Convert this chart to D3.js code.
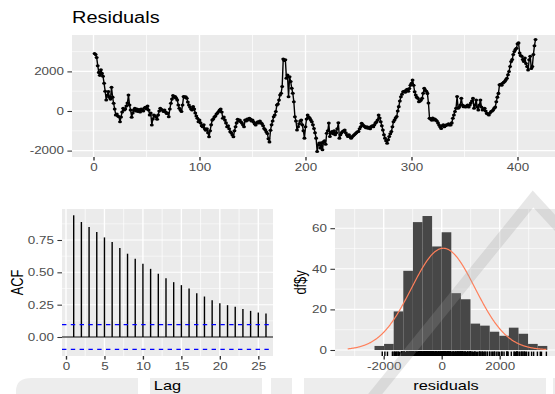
<!DOCTYPE html>
<html>
<head>
<meta charset="utf-8">
<script src="https://cdn.jsdelivr.net/npm/d3@7"></script>
<style>
  html, body { margin: 0; padding: 0; background: #ffffff; }
  svg { display: block; font-family: "Liberation Sans", Arial, Helvetica, sans-serif; }
</style>
</head>
<body>
<svg id="chart" width="555" height="394"></svg>
<script>
// ---- data -------------------------------------------------------------
// model residuals, one value per time step (t = 1 .. n)
const residuals = [
  2900, 2850, 2700, 2290, 1950, 1800, 2080, 1900, 1750, 1400,
  1000, 560, 800, 980, 700, 600, 1200, 700, 390, 100,
  -200, -150, -250, -290, -540, -300, -50, 135, 50, 100,
  250, 400, 810, 300, 50, -320, -100, 50, 135, 0,
  100, -30, 80, -50, 100, 50, 0, 150, 190, 100,
  250, 50, -200, -100, -710, -400, -200, -250, -300, -420,
  -200, 0, 135, 80, 50, -30, 50, -50, -120, -100,
  -290, 100, 390, 600, 780, 700, 730, 650, 560, 300,
  135, 50, -30, 300, 730, 700, 720, 640, 450, 300,
  200, 100, 50, 220, 100, -100, -250, -370, -540, -450,
  -600, -750, -800, -700, -900, -970, -900, -1100, -1300, -1000,
  -700, -460, -400, -300, -250, -150, -100, -30, 50, 100,
  -50, -370, -300, -460, -600, -800, -750, -900, -1050, -1100,
  -1200, -1300, -1000, -800, -600, -420, -500, -450, -540, -600,
  -700, -800, -460, -500, -400, -450, -370, -400, -500, -460,
  -550, -650, -710, -600, -550, -600, -500, -590, -650, -750,
  -880, -950, -1050, -1140, -1400, -1560, -970, -700, -500, -290,
  -200, -30, 300, 350, 550, 810, 900, 1240, 2630, 2550,
  2590, 1660, 1820, 720, 1730, 1490, 1150, 900, 470, -290,
  -500, -960, -800, -650, -500, -450, -700, -1000, -1370, -800,
  -400, -200, -300, -360, -450, -540, -700, -880, -1100, -1370,
  -2050, -1700, -1620, -1870, -1600, -1960, -1550, -1500, -1680, -1120,
  -1000, -610, -1290, -1100, -1040, -1150, -1000, -1200, -1100, -900,
  -590, -1370, -1200, -1100, -1040, -1000, -960, -1100, -1200, -1290,
  -1200, -1300, -1370, -1300, -1250, -1200, -1150, -1100, -1050, -1040,
  -900, -800, -620, -700, -750, -790, -850, -800, -870, -820,
  -900, -790, -750, -800, -700, -600, -550, -450, -200, -350,
  -540, -750, -960, -1200, -1370, -1500, -1630, -1450, -1290, -1150,
  -1040, -800, -540, -450, -350, -280, 0, 220, 500, 720,
  850, 970, 1000, 950, 1060, 1100, 1000, 1140, 1300, 1400,
  1565, 1300, 970, 808, 700, 640, 470, 500, 550, 640,
  900, 1145, 1050, 1000, 890, 400, -370, -400, -460, -350,
  -450, -400, -460, -500, -600, -710, -800, -880, -750, -700,
  -800, -750, -700, -710, -650, -700, -710, -600, -370, -200,
  -30, 135, 730, 135, 200, 300, 640, 300, 220, 250,
  200, 250, 300, 200, 300, 400, 500, 640, 135, 300,
  560, 200, 50, 300, 560, 200, 50, 100, 135, 0,
  -120, -150, -200, -100, -30, 0, 50, 135, 200, 470,
  700, 890, 1320, 1350, 1300, 1400, 1450, 1500, 1580, 1650,
  1830, 2000, 2250, 2500, 2600, 2850, 3000, 3100, 3170, 3400,
  3440, 2930, 2800, 2760, 2600, 2500, 2680, 2400, 2250, 2070,
  2590, 2760, 2150, 2250, 2850, 3300, 3610
];

// autocorrelation of the residuals
const acfLags   = [1, 2, 3, 4, 5, 6, 7, 8, 9, 10, 11, 12, 13, 14, 15, 16, 17, 18, 19, 20, 21, 22, 23, 24, 25, 26];
const acfValues = [0.941, 0.889, 0.850, 0.812, 0.770, 0.734, 0.688, 0.644, 0.605, 0.566,
                   0.527, 0.489, 0.455, 0.424, 0.401, 0.375, 0.339, 0.313, 0.284, 0.261,
                   0.246, 0.233, 0.217, 0.202, 0.189, 0.181];

// histogram of the residuals (boundary at 0)
const binWidth   = 331;
const binFirst   = -7;   // index of the first bin: left edge = binFirst * binWidth
const binCounts  = [2, 3, 19, 39, 63, 66, 51, 58, 28, 25, 13, 12, 9, 7, 11, 8, 3, 2];

// tick labels
const timeTicks   = [0, 100, 200, 300, 400];
const timeMinor   = [50, 150, 250, 350];
const residTicks  = [-2000, 0, 2000];
const residMinor  = [-1000, 1000, 3000];
const lagTicks    = [0, 5, 10, 15, 20, 25];
const lagMinor    = [2.5, 7.5, 12.5, 17.5, 22.5];
const acfTicks    = [0, 0.25, 0.5, 0.75];
const acfMinor    = [0.125, 0.375, 0.625, 0.875];
const histXTicks  = [-2000, 0, 2000];
const histXMinor  = [-3000, -1000, 1000, 3000];
const histYTicks  = [0, 20, 40, 60];
const histYMinor  = [10, 30, 50];

// ---- drawing ----------------------------------------------------------
const SX = 1.28;                 // horizontal stretch of the whole figure
const svg = d3.select("#chart");
const PANEL_BG = "#EBEBEB";
const TICK_COL = "#333333";
const LABEL_COL = "#4D4D4D";

// pale backdrop blocks along the lower edge
const backdrop = svg.append("g").attr("fill", "#EDEDED");
backdrop.append("path")
  .attr("d", "M16,394 L16,391 Q16,378 32,378 L138,378 L138,394 Z");
[[150, 262], [271, 292], [304, 546], [553, 560]].forEach(([a, b]) => {
  backdrop.append("rect").attr("x", a).attr("y", 378).attr("width", b - a).attr("height", 16);
});

let clipId = 0;
function panel(box, x, y, xMajor, xMinor, yMajor, yMinor) {
  const g = svg.append("g");
  g.append("rect")
    .attr("x", box.x0).attr("y", box.y0)
    .attr("width", box.x1 - box.x0).attr("height", box.y1 - box.y0)
    .attr("fill", PANEL_BG);
  const id = "clip" + (clipId++);
  g.append("clipPath").attr("id", id).append("rect")
    .attr("x", box.x0).attr("y", box.y0)
    .attr("width", box.x1 - box.x0).attr("height", box.y1 - box.y0);
  const grid = g.append("g").attr("clip-path", `url(#${id})`);
  grid.selectAll(".hmin").data(yMinor).join("line")
    .attr("x1", box.x0).attr("x2", box.x1)
    .attr("y1", d => y(d)).attr("y2", d => y(d))
    .attr("stroke", "#fff").attr("stroke-width", 0.55);
  grid.selectAll(".vmin").data(xMinor).join("line")
    .attr("y1", box.y0).attr("y2", box.y1)
    .attr("x1", d => x(d)).attr("x2", d => x(d))
    .attr("stroke", "#fff").attr("stroke-width", 0.55 * SX);
  grid.selectAll(".hmaj").data(yMajor).join("line")
    .attr("x1", box.x0).attr("x2", box.x1)
    .attr("y1", d => y(d)).attr("y2", d => y(d))
    .attr("stroke", "#fff").attr("stroke-width", 1.07);
  grid.selectAll(".vmaj").data(xMajor).join("line")
    .attr("y1", box.y0).attr("y2", box.y1)
    .attr("x1", d => x(d)).attr("x2", d => x(d))
    .attr("stroke", "#fff").attr("stroke-width", 1.07 * SX);
  const plot = g.append("g").attr("clip-path", `url(#${id})`);
  return plot;
}

function leftAxis(x0, y, ticks, fmt) {
  const tickLen = 4.6, pad = 3.4;
  const ax = svg.append("g").attr("transform", `translate(${x0},0)`)
    .call(d3.axisLeft(y).tickValues(ticks).tickFormat(fmt).tickSize(tickLen).tickPadding(pad));
  ax.select(".domain").remove();
  ax.selectAll(".tick line").attr("stroke", TICK_COL).attr("stroke-width", 1.07);
  ax.selectAll(".tick text")
    .attr("x", -(tickLen + pad) / SX)
    .attr("transform", `scale(${SX},1)`)
    .attr("fill", LABEL_COL)
    .style("font-size", "10.5px").style("font-family", "Liberation Sans, Arial, sans-serif");
}

function bottomAxis(y0, x, ticks, fmt) {
  const ax = svg.append("g").attr("transform", `translate(0,${y0})`)
    .call(d3.axisBottom(x).tickValues(ticks).tickFormat(fmt).tickSize(3.6).tickPadding(2.9));
  ax.select(".domain").remove();
  ax.selectAll(".tick line").attr("stroke", TICK_COL).attr("stroke-width", 1.07 * SX);
  ax.selectAll(".tick text")
    .attr("transform", `scale(${SX},1)`)
    .attr("fill", LABEL_COL)
    .style("font-size", "10.5px").style("font-family", "Liberation Sans, Arial, sans-serif");
}

function stretchedText(x, y, str, size, opts = {}) {
  const rot = opts.rotate ? " rotate(-90)" : "";
  svg.append("text")
    .attr("transform", `translate(${x},${y}) scale(${SX},1)${rot}`)
    .attr("text-anchor", opts.anchor || "middle")
    .attr("fill", opts.fill || "#000")
    .style("font-size", size + "px")
    .text(str);
}

const intFmt = d => String(d);

// --- time plot of residuals
{
  const box = { x0: 72, x1: 560, y0: 35, y1: 157 };
  const x = d3.scaleLinear().domain([0, 400]).range([93.5, 517.5]);
  const y = d3.scaleLinear().domain([-2000, 2000]).range([150.6, 71.4]);
  const plot = panel(box, x, y, timeTicks, timeMinor, residTicks, residMinor);
  const pts = residuals.map((v, i) => ({ t: i + 1, v }));
  plot.append("path")
    .datum(pts)
    .attr("fill", "none").attr("stroke", "#000").attr("stroke-width", 1.4)
    .attr("stroke-linejoin", "round")
    .attr("d", d3.line().x(d => x(d.t)).y(d => y(d.v)));
  plot.selectAll("ellipse").data(pts).join("ellipse")
    .attr("cx", d => x(d.t)).attr("cy", d => y(d.v))
    .attr("rx", 1.75 * SX / 1.15).attr("ry", 1.75 / 1.15)
    .attr("fill", "#000");
  leftAxis(box.x0, y, residTicks, intFmt);
  bottomAxis(box.y1, x, timeTicks, intFmt);
  stretchedText(box.x0, 23.3, "Residuals", 15.6, { anchor: "start" });
}

// --- ACF
{
  const box = { x0: 62, x1: 273, y0: 209, y1: 356 };
  const x = d3.scaleLinear().domain([0, 25]).range([66, 258.3]);
  const y = d3.scaleLinear().domain([0, 0.75]).range([337, 240]);
  const plot = panel(box, x, y, lagTicks, lagMinor, acfTicks, acfMinor);
  const ci = 1.96 / Math.sqrt(residuals.length);
  plot.append("line")
    .attr("x1", box.x0).attr("x2", box.x1).attr("y1", y(0)).attr("y2", y(0))
    .attr("stroke", "#000").attr("stroke-width", 1.1);
  plot.selectAll(".spike").data(acfLags).join("line")
    .attr("x1", d => x(d)).attr("x2", d => x(d))
    .attr("y1", y(0)).attr("y2", (d, i) => y(acfValues[i]))
    .attr("stroke", "#000").attr("stroke-width", 1.1 * SX);
  plot.selectAll(".ci").data([ci, -ci]).join("line")
    .attr("x1", box.x0).attr("x2", box.x1)
    .attr("y1", d => y(d)).attr("y2", d => y(d))
    .attr("stroke", "#0000FF").attr("stroke-width", 1.2)
    .attr("stroke-dasharray", "4.4 4.4");
  leftAxis(box.x0, y, acfTicks, d3.format(".2f"));
  bottomAxis(box.y1, x, lagTicks, intFmt);
  stretchedText((box.x0 + box.x1) / 2, 390, "Lag", 12.8);
  stretchedText(22.5, (box.y0 + box.y1) / 2, "ACF", 12.8, { rotate: true });
}

// --- histogram with normal density and rug
{
  const box = { x0: 335, x1: 557, y0: 209, y1: 356 };
  const x = d3.scaleLinear().domain([-2000, 2000]).range([383.7, 499.7]);
  const y = d3.scaleLinear().domain([0, 60]).range([350, 228.2]);
  const plot = panel(box, x, y, histXTicks, histXMinor, histYTicks, histYMinor);
  const bins = binCounts.map((c, i) => ({ x0: (binFirst + i) * binWidth, x1: (binFirst + i + 1) * binWidth, c }));
  plot.selectAll(".bar").data(bins).join("rect")
    .attr("x", d => x(d.x0)).attr("width", d => x(d.x1) - x(d.x0))
    .attr("y", d => y(d.c)).attr("height", d => y(0) - y(d.c))
    .attr("fill", "#474747");

  const n = residuals.length;
  const mu = d3.mean(residuals);
  const sd = d3.deviation(residuals);
  const lo = Math.min(d3.min(residuals), mu - 3 * sd);
  const hi = Math.max(d3.max(residuals), mu + 3 * sd);
  const grid = d3.range(512).map(i => lo + (hi - lo) * i / 511);
  const dens = grid.map(v => ({
    v, c: n * binWidth * Math.exp(-0.5 * ((v - mu) / sd) ** 2) / (sd * Math.sqrt(2 * Math.PI))
  }));
  plot.append("path").datum(dens)
    .attr("fill", "none").attr("stroke", "#FF7F5A").attr("stroke-width", 1.2)
    .attr("d", d3.line().x(d => x(d.v)).y(d => y(d.c)));

  const rugLen = 0.03 * (box.y1 - box.y0);
  plot.selectAll(".rug").data(residuals).join("line")
    .attr("x1", d => x(d)).attr("x2", d => x(d))
    .attr("y1", box.y1).attr("y2", box.y1 - rugLen)
    .attr("stroke", "#000").attr("stroke-width", 1.1 * SX);

  leftAxis(box.x0, y, histYTicks, intFmt);
  bottomAxis(box.y1, x, histXTicks, intFmt);
  stretchedText((box.x0 + box.x1) / 2, 390, "residuals", 12.8);
  stretchedText(306, (box.y0 + box.y1) / 2, "df$y", 12.8, { rotate: true });
}

// translucent diagonal band crossing the lower-right panel
svg.append("path")
  .attr("d", "M372,398 L533,199 L580,250")
  .attr("fill", "none")
  .attr("stroke", "#9A9A9A").attr("stroke-opacity", 0.24)
  .attr("stroke-width", 11).attr("stroke-linejoin", "miter");
</script>
</body>
</html>
